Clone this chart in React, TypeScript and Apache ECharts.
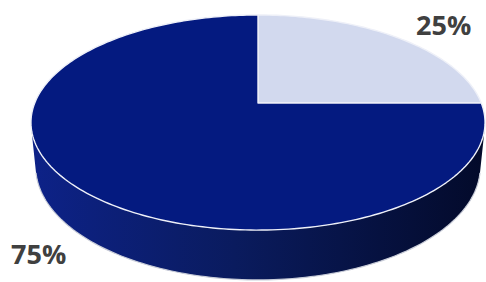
import React, { useEffect, useRef } from "react";
import * as echarts from "echarts";

const categories = ["Part A", "Part B"];
const values = [25, 75];
const labels = ["25%", "75%"];
const topColors = ["#d2d9ee", "#041a80"];

// projection parameters (layout)
const FX = 1094;
const FY = 1113;
const D = 4.9;
const SIN = 0.458;
const COS = Math.sqrt(1 - SIN * SIN);
const CX = 258;
const CY = 103;
const H = 0.22;

function proj(X: number, Y: number, Z: number): number[] {
  const depth = D + Y * COS - Z * SIN;
  return [CX + (FX * X) / depth, CY - (FY * (Y * SIN + Z * COS)) / depth];
}

function arcPts(a0: number, a1: number, z: number): number[][] {
  const n = Math.max(2, Math.ceil(Math.abs(a1 - a0) / 0.02));
  const pts: number[][] = [];
  for (let i = 0; i <= n; i++) {
    const a = a0 + ((a1 - a0) * i) / n;
    pts.push(proj(Math.sin(a), Math.cos(a), z));
  }
  return pts;
}

export default function App() {
  const ref = useRef<HTMLDivElement>(null);
  useEffect(() => {
    if (!ref.current) return;
    const chart = echarts.init(ref.current, undefined, { renderer: "svg" });
    const total = values.reduce((s, v) => s + v, 0);
    const starts: number[] = [];
    let acc = 0;
    values.forEach((v) => {
      starts.push(acc);
      acc += v;
    });
    const aVis = Math.acos(-1 / (D * COS));
    const visLo = aVis;
    const visHi = 2 * Math.PI - aVis;

    const renderItem = (params: any, api: any) => {
      const i = params.dataIndex;
      const v = api.value(1);
      const s = (starts[i] / total) * 2 * Math.PI;
      const e = s + (v / total) * 2 * Math.PI;
      const children: any[] = [];
      const lo = Math.max(s, visLo);
      const hi = Math.min(e, visHi);
      if (hi > lo) {
        const topArc = arcPts(lo, hi, 0);
        const botArc = arcPts(hi, lo, -H);
        children.push({
          type: "polygon",
          shape: { points: topArc.concat(botArc) },
          style: {
            fill: new echarts.graphic.LinearGradient(0, 0, 1, 0, [
              { offset: 0, color: "#0d2288" },
              { offset: 0.45, color: "#0a1b5e" },
              { offset: 1, color: "#030a2a" },
            ]),
            stroke: "none",
          },
        });
        children.push({
          type: "polyline",
          shape: { points: arcPts(lo, hi, -H) },
          style: { stroke: "#c8ccd8", lineWidth: 1.2, fill: "none" },
        });
      }
      const c = proj(0, 0, 0);
      children.push({
        type: "polygon",
        shape: { points: [c].concat(arcPts(s, e, 0)) },
        style: {
          fill: topColors[i],
          stroke: "#eef0f8",
          lineWidth: 1.4,
          lineJoin: "round",
        },
      });
      return { type: "group", children };
    };

    chart.setOption({
      animation: false,
      backgroundColor: "#ffffff",
      series: [
        {
          type: "custom",
          coordinateSystem: "none",
          renderItem,
          data: values.map((v, i) => [i, v, categories[i]]),
        },
      ],
      graphic: [
        {
          type: "text",
          left: 416,
          top: 11,
          z: 10,
          style: {
            text: labels[0],
            font: "bold 27px 'Open Sans'",
            fill: "#404040",
          },
        },
        {
          type: "text",
          left: 11,
          top: 240,
          z: 10,
          style: {
            text: labels[1],
            font: "bold 27px 'Open Sans'",
            fill: "#404040",
          },
        },
      ],
    });
    return () => chart.dispose();
  }, []);
  return (
    <div
      ref={ref}
      style={{ position: "fixed", left: 0, top: 0, width: 486, height: 282 }}
    />
  );
}
